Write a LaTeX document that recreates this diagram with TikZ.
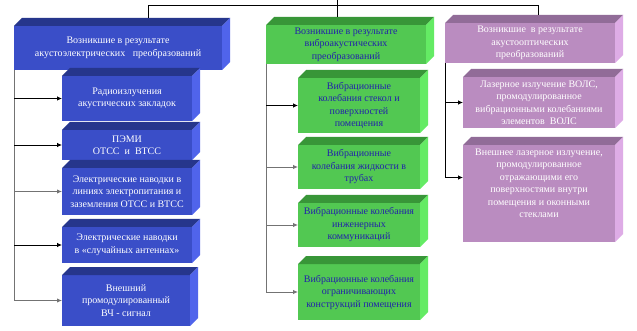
\documentclass[tikz,border=0pt]{standalone}
\usepackage{fontspec}
\setmainfont{Liberation Serif}
\usetikzlibrary{arrows.meta}
\definecolor{cBlF}{RGB}{58,78,200}
\definecolor{cBlT}{RGB}{38,54,140}
\definecolor{cBlS}{RGB}{80,100,235}
\definecolor{cGrF}{RGB}{82,200,82}
\definecolor{cGrT}{RGB}{56,150,56}
\definecolor{cGrS}{RGB}{100,235,100}
\definecolor{cGrTxt}{RGB}{34,34,170}
\definecolor{cViF}{RGB}{186,140,192}
\definecolor{cViT}{RGB}{145,108,152}
\definecolor{cViS}{RGB}{222,172,230}
\tikzset{
  cubebox/.style={inner sep=0pt, outer sep=0pt, align=center,
    font=\rmfamily\fontsize{10}{12.5}\selectfont},
  bl/.style={cubebox, fill=cBlF, text=white},
  bltop/.style={fill=cBlT}, blside/.style={fill=cBlS},
  gr/.style={cubebox, fill=cGrF, text=cGrTxt},
  grtop/.style={fill=cGrT}, grside/.style={fill=cGrS},
  vi/.style={cubebox, fill=cViF, text=white},
  vitop/.style={fill=cViT}, viside/.style={fill=cViS},
  conn/.style={draw=black, line width=0.8pt},
  connG/.style={draw=black!55, line width=0.9pt},
  arr/.style={conn, -{Latex[length=5pt,width=4.5pt]}},
  arrG/.style={connG, -{Latex[length=5pt,width=4.5pt]}, color=black!55}
}
\newcommand\mycube[7]{%
  \node[#6, minimum width={(#4-#2)*1pt}, minimum height={(#5-#3)*1pt}]
    (#1) at ({(#2+#4)/2},{(#3+#5)/2}) {#7};
  \fill[#6top] (#1.north west) -- ++(8pt,8pt) -- ([shift={(8pt,8pt)}]#1.north east) -- (#1.north east) -- cycle;
  \fill[#6side] (#1.north east) -- ++(8pt,8pt) -- ([shift={(8pt,8pt)}]#1.south east) -- (#1.south east) -- cycle;
}
\begin{document}
\begin{tikzpicture}[x=1pt,y=-1pt]
\fill[white] (0,0) rectangle (637,331);
\useasboundingbox (0,0) rectangle (637,331);

% headers
\mycube{bh}{14}{26}{222}{70}{bl}{Возникшие в результате\\акустоэлектрических~~~преобразований}
\mycube{gh}{266}{25}{426}{64}{gr}{Возникшие в результате\\виброакустических\\преобразований}
\mycube{vh}{445}{23}{615}{63}{vi}{Возникшие~~в результате\\акустооптических\\преобразований}

% blue column
\mycube{b1}{62}{76}{192}{121}{bl}{Радиоизлучения\\акустических закладок}
\mycube{b2}{62}{130}{192}{160}{bl}{ПЭМИ\\ОТСС~~и~~ВТСС}
\mycube{b3}{62}{168}{192}{215}{bl}{Электрические наводки в\\линиях электропитания и\\заземления ОТСС и ВТСС}
\mycube{b4}{62}{227}{192}{263}{bl}{Электрические наводки\\в «случайных антеннах»}
\mycube{b5}{62}{275}{190}{326}{bl}{Внешний\\промодулированный\\ВЧ - сигнал}

% green column
\mycube{g1}{298}{78}{420}{133}{gr}{Вибрационные\\колебания стекол и\\поверхностей\\помещения}
\mycube{g2}{298}{145}{420}{189}{gr}{Вибрационные\\колебания жидкости в\\трубах}
\mycube{g3}{298}{203}{420}{247}{gr}{Вибрационные колебания\\инженерных\\коммуникаций}
\mycube{g4}{298}{264}{420}{320}{gr}{Вибрационные колебания\\ограничивающих\\конструкций помещения}

% violet column
\mycube{v1}{463}{77}{615}{128}{vi}{Лазерное излучение ВОЛС,\\промодулированное\\вибрационными колебаниями\\элементов~~ВОЛС}
\mycube{v2}{463}{145}{615}{242}{vi}{Внешнее лазерное излучение,\\промодулированное\\отражающими его\\поверхностями внутри\\помещения и оконными\\стеклами\\[8pt]}

% top connectors
\coordinate (root) at (337,0);
\coordinate (hub) at (337,5);
\draw[conn] (root) -- (hub);
\draw[conn] ([shift={(30pt,8pt)}]bh.north) |- (hub);
\draw[conn] (hub) -| ([shift={(8pt,8pt)}]vh.north);
\draw[conn] (hub) -- ([shift={(-9pt,8pt)}]gh.north);

% blue bus
\draw[connG] (bh.south west) -- (bh.south west |- b5.west) -- ([xshift=-1pt]b5.west);
\draw[arr] (bh.south west |- b1.west) -- (b1.west);
\draw[arr] (bh.south west |- b2.west) -- (b2.west);
\draw[arrG] (bh.south west |- b3.west) -- (b3.west);
\draw[arr] (bh.south west |- b4.west) -- (b4.west);
\draw[arrG] (bh.south west |- b5.west) -- (b5.west);

% green bus
\draw[connG] (gh.south west) -- (gh.south west |- g4.west);
\draw[arr] (gh.south west |- g1.west) -- (g1.west);
\draw[arrG] (gh.south west |- g2.west) -- (g2.west);
\draw[arrG] (gh.south west |- g3.west) -- (g3.west);
\draw[arrG] (gh.south west |- g4.west) -- (g4.west);

% violet bus
\draw[conn] (vh.south west) -- ([yshift=16pt]vh.south west |- v2.west);
\draw[arr] (vh.south west |- v1.west) -- (v1.west);
\draw[arr] ([yshift=16pt]vh.south west |- v2.west) -- ([yshift=16pt]v2.west);
\end{tikzpicture}
\end{document}
